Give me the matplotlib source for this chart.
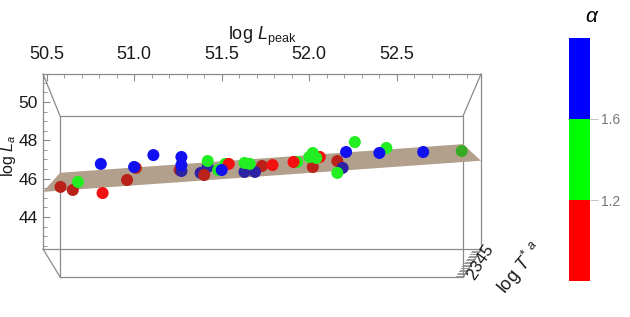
import numpy as np
import matplotlib
matplotlib.use("Agg")
import matplotlib.pyplot as plt
from matplotlib.colors import ListedColormap, BoundaryNorm
import matplotlib.colorbar as mcolorbar

plt.rcParams['font.family'] = ['Liberation Sans', 'DejaVu Sans']
plt.rcParams['mathtext.fontset'] = 'custom'
plt.rcParams['mathtext.rm'] = 'Liberation Sans'
plt.rcParams['mathtext.it'] = 'Liberation Sans:italic'

log_lpeak = [50.58, 50.68, 50.65, 50.82, 50.81, 51.01, 51.00, 50.96, 51.11, 51.27,
             51.27, 51.27, 51.26, 51.42, 51.42, 51.38, 51.40, 51.48, 51.52, 51.54,
             51.50, 51.63, 51.66, 51.73, 51.63, 51.69, 51.79, 51.91, 51.93, 52.02,
             52.00, 52.04, 52.05, 52.02, 52.06, 52.21, 52.26, 52.16, 52.19, 52.16,
             52.40, 52.44, 52.65, 52.87]
log_la = [45.57, 45.83, 45.41, 45.25, 46.77, 46.56, 46.61, 45.93, 47.23, 47.13,
          46.71, 46.40, 46.45, 46.92, 46.61, 46.30, 46.19, 46.45, 46.77, 46.77,
          46.45, 46.82, 46.77, 46.66, 46.35, 46.35, 46.71, 46.87, 46.87, 47.34,
          47.13, 47.08, 47.13, 46.61, 47.13, 47.39, 47.91, 46.92, 46.56, 46.30,
          47.34, 47.60, 47.39, 47.44]
alpha = [1.0, 1.4, 1.0, 1.0, 1.8, 1.0, 1.8, 1.0, 1.8, 1.8,
         1.8, 1.8, 1.0, 1.4, 1.8, 1.8, 1.0, 1.4, 1.4, 1.0,
         1.8, 1.4, 1.4, 1.0, 1.8, 1.8, 1.0, 1.0, 1.4, 1.4,
         1.4, 1.4, 1.0, 1.0, 1.0, 1.8, 1.4, 1.0, 1.8, 1.4,
         1.8, 1.4, 1.8, 1.4]
behind = [1, 0, 1, 0, 0, 1, 0, 1, 0, 0,
          0, 1, 1, 0, 1, 1, 1, 0, 0, 0,
          0, 0, 0, 1, 1, 1, 0, 0, 0, 0,
          0, 0, 0, 1, 0, 0, 0, 1, 1, 0,
          0, 0, 0, 1]

alpha_bounds = [0.8, 1.2, 1.6, 2.0]
alpha_ticks = [1.2, 1.6]
class_colors = ['#f21010', '#22ee22', '#1010f0']

lpeak_lim = (50.48, 52.98)
la_lim = (42.33, 51.46)
t_ticks = [2, 3, 4, 5]
t_lim = (5.25, 1.64)   # front face -> back face

# fitted plane: log La = a + b*(log Lpeak - 50.48) + c*depth
plane_a, plane_b, plane_c = 45.31, 0.65, 2.93

fig = plt.figure(figsize=(6.3, 3.17), dpi=100)
ax = fig.add_axes([43 / 630, 1 - 249 / 317, 438 / 630, 175 / 317])
ax.set_xlim(*lpeak_lim)
ax.set_ylim(*la_lim)

box_col = '#8a8a8a'
for s in ax.spines.values():
    s.set_color(box_col)
    s.set_linewidth(0.9)


def to_axes(lp, la, u):
    # simple perspective: back face is shrunk and shifted down
    xf = (lp - lpeak_lim[0]) / (lpeak_lim[1] - lpeak_lim[0])
    yf = (la - la_lim[0]) / (la_lim[1] - la_lim[0])
    return xf + u * (0.039 - 0.08 * xf), yf + u * (-0.16 - 0.08 * yf)


# back face and connecting edges
corners = [(lpeak_lim[0], la_lim[0]), (lpeak_lim[1], la_lim[0]),
           (lpeak_lim[1], la_lim[1]), (lpeak_lim[0], la_lim[1])]
back = [to_axes(lp, la, 1) for lp, la in corners]
bx, by = zip(*(back + back[:1]))
ax.plot(bx, by, color=box_col, lw=0.9, transform=ax.transAxes, clip_on=False, zorder=1)
for lp, la in corners:
    fx, fy = to_axes(lp, la, 0)
    kx, ky = to_axes(lp, la, 1)
    ax.plot([fx, kx], [fy, ky], color=box_col, lw=0.9, transform=ax.transAxes,
            clip_on=False, zorder=1)

# regression plane
plane = []
for lp, u in [(lpeak_lim[0], 0), (lpeak_lim[0], 1), (lpeak_lim[1], 1), (lpeak_lim[1], 0)]:
    la = plane_a + plane_b * (lp - lpeak_lim[0]) + plane_c * u
    plane.append(to_axes(lp, la, u))
ax.add_patch(plt.Polygon(plane, closed=True, facecolor='#b3a08c', edgecolor='none',
                         transform=ax.transAxes, clip_on=False, zorder=2))

# points
cmap = ListedColormap(class_colors)
norm = BoundaryNorm(alpha_bounds, cmap.N)
cols = []
for a, b in zip(alpha, behind):
    c = np.array(cmap(norm(a)))
    if b:
        c[:3] = c[:3] * 0.62 + np.array([0.18, 0.12, 0.08]) * 0.38 * 2
    cols.append(np.clip(c, 0, 1))
order = np.argsort(behind)[::-1]
ax.scatter(np.array(log_lpeak)[order], np.array(log_la)[order],
           c=np.array(cols)[order], s=75, edgecolors='none', zorder=3, clip_on=False)

# axes ticks
ax.xaxis.tick_top()
ax.set_xticks(np.arange(50.5, 53.0, 0.5))
ax.set_xticks(np.arange(50.5, 53.0, 0.1), minor=True)
ax.set_xticklabels([f"{v:.1f}" for v in np.arange(50.5, 53.0, 0.5)])
ax.set_yticks([44, 46, 48, 50])
ax.set_yticks(np.arange(42.5, 51.5, 0.5), minor=True)
ax.tick_params(axis='both', which='both', direction='in', colors=box_col,
               labelcolor='#1a1a1a', labelsize=13)
ax.tick_params(axis='x', which='major', length=5, pad=8)
ax.tick_params(axis='x', which='minor', length=3)
ax.tick_params(axis='y', which='major', length=5, pad=3.5, labelsize=12.5)
ax.tick_params(axis='y', which='minor', length=3)
ax.tick_params(right=False, bottom=False, which='both')

# depth axis along the lower-right edge
u_of = lambda t: (t - t_lim[0]) / (t_lim[1] - t_lim[0])
for t in np.arange(1.8, 5.25, 0.2):
    x0, y0 = to_axes(lpeak_lim[1], la_lim[0], u_of(t))
    ax.plot([x0, x0 - 0.018], [y0, y0], color=box_col, lw=0.6,
            transform=ax.transAxes, clip_on=False, zorder=1)
for t in t_ticks:
    x0, y0 = to_axes(lpeak_lim[1], la_lim[0], u_of(t))
    ax.text(x0 + 0.018, y0, str(t), rotation=55, fontsize=12, ha='center', va='center',
            transform=ax.transAxes, color='#1a1a1a')
fig.text(520 / 630, 1 - 268 / 317, r'log $T^{*}$ $^{a}$', rotation=50, fontsize=13,
         ha='center', va='center', color='#1a1a1a')

fig.text(262 / 630, 1 - 36 / 317, r'log $L_{\mathrm{peak}}$', fontsize=13,
         ha='center', va='center', color='#1a1a1a')
fig.text(9 / 630, 1 - 156 / 317, r'log $L_a$', fontsize=11.5, rotation=90,
         ha='center', va='center', color='#1a1a1a')

# colour legend
cax = fig.add_axes([569 / 630, 1 - 281 / 317, 21 / 630, 243 / 317])
cb = mcolorbar.ColorbarBase(cax, cmap=ListedColormap(['#ff0000', '#00ff00', '#0000ff']),
                            norm=norm, boundaries=alpha_bounds, ticks=alpha_ticks)
cb.outline.set_visible(False)
cb.ax.minorticks_off()
cb.ax.set_yticklabels([f"{v:.1f}" for v in alpha_ticks])
cb.ax.tick_params(length=6, width=0.6, color='#bbbbbb', labelcolor='#777777',
                  labelsize=10, pad=2)
fig.text(592 / 630, 1 - 17 / 317, r'$\alpha$', fontsize=15, ha='center', va='center')

fig.savefig("out.png", dpi=100)
